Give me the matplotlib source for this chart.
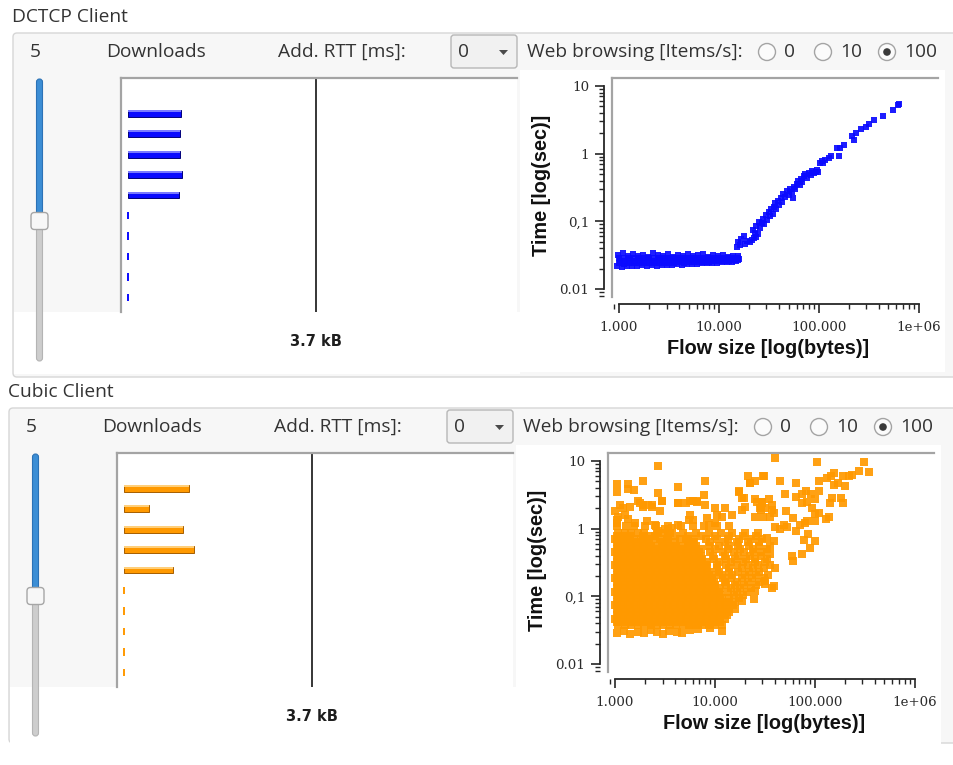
import numpy as np
import matplotlib
matplotlib.use("Agg")
import matplotlib.pyplot as plt
from matplotlib.patches import FancyBboxPatch, Rectangle, Circle, Polygon
from matplotlib.ticker import FixedLocator, FixedFormatter, LogLocator, NullFormatter
from matplotlib.transforms import blended_transform_factory

plt.rcParams["font.family"] = ["Open Sans", "DejaVu Sans"]

W, H = 954, 765
TEXT = "#333333"

# download slots (kB per flow, 0 = idle slot)
slots = list(range(10))
dctcp_downloads = [1.05, 1.03, 1.03, 1.06, 1.00, 0, 0, 0, 0, 0]
cubic_downloads = [1.27, 0.50, 1.16, 1.37, 0.97, 0, 0, 0, 0, 0]
marker_kb = 3.7

size_ticks = [1e3, 1e4, 1e5, 1e6]
size_labels = ["1.000", "10.000", "100.000", "1e+06"]
time_ticks = [0.01, 0.1, 1, 10]
time_labels = ["0.01", "0,1", "1", "10"]
rate_options = ["0", "10", "100"]
rate_selected = "100"

# DCTCP flow completion times: flat band for small flows ...
dctcp_band_size = [
    960, 1080, 1210, 1360, 1520, 1700, 1910, 2140, 2400, 2700, 3020, 3390, 3800,
    4260, 4780, 5360, 6010, 6740, 7560, 8480, 9510, 10700, 12000, 13400, 15000,
    1000, 1120, 1260, 1410, 1580, 1780, 1990, 2230, 2500, 2810, 3150, 3540, 3970,
    4450, 4990, 5600, 6280, 7040, 7900, 8860, 9940, 11150, 12500, 14000, 15700,
    1020, 1140, 1280, 1440, 1610, 1800, 2020, 2270, 2550, 2860, 3200, 3590, 4030,
    4520, 5070, 5690, 6380, 7160, 8030, 9000, 10100, 11300, 12700, 14200, 15900,
    990, 1110, 1250, 1400, 1570, 1760, 1980, 2220, 2490, 2790, 3130, 3510, 3940,
    4420, 4950, 5560, 6230, 6990, 7850, 8800, 9880, 11100, 12450, 13950, 15650,
    980, 1100, 1240, 1390, 1560, 1750, 1960, 2200, 2470, 2770, 3110, 3490, 3910,
    4390, 4920, 5520, 6190, 6950, 7800, 8750, 9820, 11000, 12400, 13900, 15600,
]
dctcp_band_time = [
    0.0220, 0.0215, 0.0222, 0.0218, 0.0221, 0.0224, 0.0219, 0.0223, 0.0221, 0.0226, 0.0224, 0.0228, 0.0231,
    0.0229, 0.0233, 0.0236, 0.0238, 0.0241, 0.0240, 0.0244, 0.0246, 0.0249, 0.0252, 0.0254, 0.0256,
    0.0240, 0.0238, 0.0242, 0.0239, 0.0241, 0.0243, 0.0240, 0.0242, 0.0241, 0.0244, 0.0243, 0.0245, 0.0247,
    0.0246, 0.0249, 0.0251, 0.0252, 0.0254, 0.0255, 0.0257, 0.0259, 0.0261, 0.0262, 0.0264, 0.0265,
    0.0262, 0.0258, 0.0265, 0.0260, 0.0263, 0.0259, 0.0266, 0.0261, 0.0264, 0.0262, 0.0267, 0.0263, 0.0265,
    0.0268, 0.0264, 0.0267, 0.0269, 0.0266, 0.0270, 0.0268, 0.0271, 0.0273, 0.0270, 0.0274, 0.0276,
    0.0288, 0.0284, 0.0290, 0.0286, 0.0289, 0.0285, 0.0291, 0.0287, 0.0288, 0.0285, 0.0290, 0.0286, 0.0288,
    0.0287, 0.0289, 0.0286, 0.0288, 0.0287, 0.0289, 0.0288, 0.0290, 0.0289, 0.0290, 0.0291, 0.0292,
    0.0318, 0.0335, 0.0305, 0.0330, 0.0312, 0.0322, 0.0300, 0.0336, 0.0315, 0.0308, 0.0328, 0.0302, 0.0320,
    0.0311, 0.0325, 0.0304, 0.0316, 0.0326, 0.0299, 0.0318, 0.0306, 0.0313, 0.0301, 0.0310, 0.0305,
]
# ... and the rise for larger flows
dctcp_rise_size = [
    15200, 15600, 16200, 16800, 17800, 18400, 19300, 20300, 21300, 22400, 23600,
    21800, 22800, 23800, 24800, 25800, 26800, 25300, 27600, 28600, 29600, 30600,
    31600, 32600, 33600, 34600, 35600, 36600, 37600, 38700, 40000, 41500, 43000,
    44200, 46000, 48000, 50000, 52000, 54000, 55500, 56500, 58500, 60500, 62500,
    64500, 66500, 68500, 71000, 73500, 76500, 79500, 83000, 86000, 89000, 93000,
    96000, 99000, 102000, 107000, 111000, 117000, 126000, 132000, 152000, 158000,
    165000, 178000, 214000, 224000, 234000, 263000, 295000, 316000, 355000,
    440000, 550000, 620000, 640000,
]
dctcp_rise_time = [
    0.042, 0.050, 0.045, 0.054, 0.061, 0.047, 0.051, 0.049, 0.053, 0.056, 0.058,
    0.074, 0.068, 0.084, 0.066, 0.079, 0.094, 0.099, 0.108, 0.090, 0.124, 0.104,
    0.138, 0.118, 0.152, 0.130, 0.165, 0.188, 0.150, 0.198, 0.172, 0.218, 0.190,
    0.255, 0.228, 0.276, 0.248, 0.298, 0.268, 0.220, 0.325, 0.300, 0.355, 0.395,
    0.340, 0.425, 0.380, 0.460, 0.495, 0.440, 0.525, 0.490, 0.555, 0.515, 0.545,
    0.575, 0.530, 0.735, 0.780, 0.720, 0.800, 0.850, 0.910, 1.20, 0.930,
    1.22, 1.35, 1.80, 1.60, 2.05, 2.30, 2.50, 2.75, 3.10,
    3.60, 4.40, 5.20, 5.50,
]

# Cubic: dense body of the cloud, one list of flow sizes per completion-time row
cubic_core_time = [0.038, 0.047, 0.059, 0.074, 0.093, 0.117, 0.147, 0.185,
                   0.23, 0.29, 0.36, 0.45, 0.56, 0.70, 0.87, 1.08]
cubic_core_size = [
    [1080, 1250, 1450, 1690, 1960, 2270, 2640, 3060, 3560, 4130, 4800, 5570, 6470, 7510, 8720, 10100, 11700],
    [1000, 1160, 1350, 1560, 1820, 2110, 2450, 2840, 3300, 3830, 4450, 5160, 6000, 6960, 8080, 9380, 10900, 12600],
    [1080, 1250, 1450, 1690, 1960, 2270, 2640, 3060, 3560, 4130, 4800, 5570, 6470, 7510, 8720, 10100, 11700, 13800],
    [1000, 1160, 1350, 1560, 1820, 2110, 2450, 2840, 3300, 3830, 4450, 5160, 6000, 6960, 8080, 9380, 10900, 12600, 15200],
    [1080, 1250, 1450, 1690, 1960, 2270, 2640, 3060, 3560, 4130, 4800, 5570, 6470, 7510, 8720, 10100, 11700, 14000, 17500],
    [1000, 1160, 1350, 1560, 1820, 2110, 2450, 2840, 3300, 3830, 4450, 5160, 6000, 6960, 8080, 9380, 10900, 13500, 16800, 21000],
    [1080, 1250, 1450, 1690, 1960, 2270, 2640, 3060, 3560, 4130, 4800, 5570, 6470, 7510, 8720, 10100, 12900, 15800, 19500, 26000],
    [1000, 1160, 1350, 1560, 1820, 2110, 2450, 2840, 3300, 3830, 4450, 5160, 6000, 6960, 8080, 9380, 12000, 14500, 18500, 23500, 31000],
    [1080, 1250, 1450, 1690, 1960, 2270, 2640, 3060, 3560, 4130, 4800, 5570, 6470, 7510, 8720, 11000, 13800, 17000, 22000, 28000],
    [1000, 1160, 1350, 1560, 1820, 2110, 2450, 2840, 3300, 3830, 4450, 5160, 6000, 6960, 8080, 10500, 13000, 16500, 21500, 27000, 36000],
    [1080, 1250, 1450, 1690, 1960, 2270, 2640, 3060, 3560, 4130, 4800, 5570, 6470, 7510, 9800, 12800, 16000, 20500, 25500, 33000],
    [1000, 1160, 1350, 1560, 1820, 2110, 2450, 2840, 3300, 3830, 4450, 5160, 6000, 6960, 9000, 12000, 15500, 19500, 24500, 30000],
    [1080, 1250, 1450, 1690, 1960, 2270, 2640, 3060, 3560, 4130, 4800, 5570, 6470, 8720, 11000, 13800, 17000, 22000, 28000, 36000],
    [1000, 1160, 1350, 1560, 1820, 2110, 2450, 2840, 3300, 4450, 5160, 6000, 8080, 10500, 13500, 17500, 23000, 30000],
    [1080, 1250, 1450, 1690, 1960, 2640, 3060, 3560, 4800, 6470, 8720, 11500, 15000, 20000, 27000],
    [1050, 1300, 1550, 2000, 2600, 3400, 4600, 6000, 7800, 10500, 14000],
]
# in-between rows of the same body
cubic_mid_time = [0.042, 0.053, 0.066, 0.083, 0.104, 0.131, 0.165, 0.207,
                  0.26, 0.325, 0.40, 0.50, 0.63, 0.78]
cubic_mid_size = [
    [1040, 1200, 1400, 1620, 1890, 2190, 2540, 2950, 3420, 3970, 4610, 5360, 6220, 7220, 8380, 9730, 11300],
    [1040, 1200, 1400, 1620, 1890, 2190, 2540, 2950, 3420, 3970, 4610, 5360, 6220, 7220, 8380, 9730, 11300, 13100],
    [1040, 1200, 1400, 1620, 1890, 2190, 2540, 2950, 3420, 3970, 4610, 5360, 6220, 7220, 8380, 9730, 11300, 13100, 15800],
    [1040, 1200, 1400, 1620, 1890, 2190, 2540, 2950, 3420, 3970, 4610, 5360, 6220, 7220, 8380, 9730, 11300, 13100, 16000],
    [1040, 1200, 1400, 1620, 1890, 2190, 2540, 2950, 3420, 3970, 4610, 5360, 6220, 7220, 8380, 9730, 11300, 15500, 19000],
    [1040, 1200, 1400, 1620, 1890, 2190, 2540, 2950, 3420, 3970, 4610, 5360, 6220, 7220, 8380, 9730, 11300, 14500, 18000, 23000],
    [1040, 1200, 1400, 1620, 1890, 2190, 2540, 2950, 3420, 3970, 4610, 5360, 6220, 7220, 8380, 9730, 12500, 16500, 21500, 28000],
    [1040, 1200, 1400, 1620, 1890, 2190, 2540, 2950, 3420, 3970, 4610, 5360, 6220, 7220, 8380, 9730, 11800, 15000, 20000, 26000, 34000],
    [1040, 1200, 1400, 1620, 1890, 2190, 2540, 2950, 3420, 3970, 4610, 5360, 6220, 7220, 8380, 10500, 14000, 18500, 24000, 31000],
    [1040, 1200, 1400, 1620, 1890, 2190, 2540, 2950, 3420, 3970, 4610, 5360, 6220, 7220, 8380, 11000, 14500, 19000, 25000, 32000],
    [1040, 1200, 1400, 1620, 1890, 2190, 2540, 2950, 3420, 3970, 4610, 5360, 6220, 7220, 9500, 12500, 17000, 22500, 29000],
    [1040, 1200, 1400, 1620, 1890, 2190, 2540, 2950, 3420, 3970, 4610, 5360, 6220, 7220, 10000, 13500, 18000, 24000, 33000],
    [1040, 1200, 1400, 1620, 1890, 2190, 2950, 3420, 3970, 5360, 6220, 9000, 12500, 16500, 21500, 28000],
    [1040, 1200, 1400, 1890, 2190, 2540, 3420, 3970, 5360, 7220, 10000, 14000, 19000, 26000],
]
# fastest flows along the lower edge
cubic_floor_size = [1040, 1230, 1400, 1700, 1950, 2300, 2650, 3000, 3500, 4200, 4700, 5600, 6800, 8900, 11800]
cubic_floor_time = [0.029, 0.031, 0.028, 0.030, 0.029, 0.032, 0.030, 0.028, 0.031, 0.030, 0.029, 0.032, 0.033, 0.034, 0.031]
# slow / large flows scattered above and to the right
cubic_sparse_size = [
    1040, 1040, 1340, 1360, 1560, 1900, 2680, 2700, 4250, 7950, 7700, 6100, 5600, 6600,
    2990, 4260, 1710, 1920, 2160, 2330, 2830, 1120, 1210, 1000, 1080,
    10000, 12600, 11700, 14800, 18600, 17400, 18600, 21400, 22400, 25100, 31000, 26300,
    29500, 28200, 31600, 34700, 40000, 22600, 30700, 45000, 65000, 105000, 310000,
    350000, 280000, 234000, 219000, 191000, 155000, 145000, 132000, 170000, 155000,
    200000, 110000, 110000, 91000, 81000, 74000, 100000, 148000, 141000, 182000,
    191000, 65000, 51000, 74000, 83000, 93000, 100000, 110000, 100000, 138000,
    129000, 60000, 80000, 83000, 37000, 30000, 35500, 39000, 49000, 52500, 40000,
    45000, 65000, 71000, 85000, 79000, 100000, 89000, 74000, 60000, 33000, 39000,
    35500, 40000, 39000, 31500, 37000, 32000, 25000, 18600, 24500, 59000, 52000,
    37000, 29500, 29000, 25000, 20000, 19500, 25000, 30700, 17500, 10400, 7900,
    6600, 5200, 4300, 5600, 5500, 6100, 8300, 8700, 10000, 2950, 2350, 1900, 1800,
    1400, 1260, 1350, 1050, 1050, 1600, 2100, 2500, 3200, 3700, 4300, 2700,
]
cubic_sparse_time = [
    4.5, 3.5, 4.5, 3.8, 3.7, 5.0, 3.4, 8.5, 4.1, 5.0, 3.1, 2.6, 2.6, 2.6,
    2.6, 2.4, 2.6, 2.25, 2.25, 2.1, 1.8, 2.25, 2.0, 1.8, 1.5,
    2.0, 2.0, 1.5, 1.6, 1.9, 3.6, 2.8, 5.9, 4.7, 5.0, 5.9, 2.5,
    2.5, 2.0, 2.0, 2.7, 11.0, 4.8, 5.9, 5.1, 4.8, 9.8, 9.8,
    6.8, 7.1, 6.3, 5.9, 6.0, 6.6, 5.9, 5.7, 4.7, 4.4,
    4.3, 5.1, 3.6, 3.2, 3.6, 3.2, 2.7, 2.8, 2.4, 2.8,
    2.4, 2.95, 3.2, 2.4, 2.45, 2.0, 1.65, 1.7, 1.3, 1.5,
    1.4, 1.45, 1.2, 1.3, 2.25, 2.5, 1.5, 1.7, 1.15, 1.07, 1.07,
    0.98, 0.91, 1.15, 0.83, 0.69, 0.66, 0.52, 0.42, 0.33, 0.72, 0.65,
    0.42, 0.26, 0.14, 0.166, 0.135, 0.15, 0.12, 0.085, 0.091, 0.39, 1.8,
    1.9, 2.4, 1.9, 2.7, 2.1, 2.8, 1.5, 1.5, 3.5, 1.6, 2.2,
    2.5, 2.4, 2.4, 1.6, 1.35, 1.35, 1.45, 1.15, 1.2, 2.6, 2.2, 2.1, 2.4,
    2.1, 1.6, 1.4, 1.35, 1.2, 1.2, 1.3, 1.15, 0.98, 1.02, 1.15, 0.91,
]

dctcp_size = dctcp_band_size + dctcp_rise_size
dctcp_time = dctcp_band_time + dctcp_rise_time
cubic_rows = list(zip(cubic_core_time, cubic_core_size)) + list(zip(cubic_mid_time, cubic_mid_size))
cubic_size = [s for _, row in cubic_rows for s in row] + cubic_floor_size + cubic_sparse_size
cubic_time = [t for t, row in cubic_rows for _ in row] + cubic_floor_time + cubic_sparse_time

fig = plt.figure(figsize=(W / 100, H / 100), dpi=100)
fig.patch.set_facecolor("white")


def px_axes(left, top, right, bottom, label):
    return fig.add_axes([left / W, 1 - bottom / H, (right - left) / W, (bottom - top) / H], label=label)


bg = fig.add_axes([0, 0, 1, 1], label="bg")
bg.set_xlim(0, W)
bg.set_ylim(H, 0)
bg.axis("off")


def rbox(x, y, w, h, r, **kw):
    bg.add_patch(FancyBboxPatch((x, y), w, h, boxstyle=f"round,pad=0,rounding_size={r}", **kw))


def draw_slider(cx, top, bottom, handle):
    rbox(cx - 3, handle, 6, bottom - handle, 3, fc="#cdcdcd", ec="#b4b4b4", lw=0.8)
    rbox(cx - 3, top, 6, handle - top, 3, fc="#3c8ed5", ec="#2c72b6", lw=0.8)
    rbox(cx - 8.5, handle - 8.5, 17, 17, 3.5, fc="#f7f7f7", ec="#a6a6a6", lw=1.0)


def draw_panel(dx, dy, box_h, title, downloads, sizes, times, body, light, dark, msize):
    hdr = 52 + dy
    bg.text(12 + dx, 17 + dy, title, fontsize=13.8, color=TEXT, va="center")
    rbox(13 + dx, 33 + dy, 990, box_h, 4, fc="#f7f7f7", ec="#d6d6d6", lw=1.0)
    bg.add_patch(Rectangle((14 + dx, 312 + dy), 506, 62, fc="white", lw=0))
    bg.add_patch(Rectangle((520 + dx, 70 + dy), 425, 302, fc="white", lw=0))

    bg.text(30 + dx, hdr, "5", fontsize=13.8, color=TEXT, va="center")
    bg.text(106 + dx, hdr, "Downloads", fontsize=13.8, color=TEXT, va="center")
    bg.text(278 + dx, hdr, "Add. RTT [ms]:", fontsize=13.8, color=TEXT, va="center")
    rbox(451 + dx, 35 + dy, 66, 33, 3, fc="#f1f1f1", ec="#b7b7b7", lw=1.0)
    bg.text(458 + dx, hdr, "0", fontsize=13.8, color=TEXT, va="center")
    bg.add_patch(Polygon([(499 + dx, 50 + dy), (508 + dx, 50 + dy), (503.5 + dx, 55 + dy)],
                         closed=True, fc="#4a4a4a", lw=0))
    bg.text(527 + dx, hdr, "Web browsing [Items/s]:", fontsize=13.8, color=TEXT, va="center")
    for cx, lab in zip([767, 823, 887], rate_options):
        bg.add_patch(Circle((cx + dx, hdr), 8.5, fc="#fbfbfb", ec="#a4a4a4", lw=1.0))
        if lab == rate_selected:
            bg.add_patch(Circle((cx + dx, hdr), 3.8, fc="#3a3a3a", lw=0))
        bg.text(cx + dx + 17, hdr, lab, fontsize=13.8, color=TEXT, va="center")

    draw_slider(39.5 + dx, 79 + dy, 361 + dy, 221 + dy)

    # per-slot download progress
    dl = px_axes(121 + dx, 78 + dy, 517 + dx, 312 + dy, title + "dl")
    dl.set_facecolor("white")
    dl.set_xlim(-7 / 50.8, 389 / 50.8)
    dl.set_ylim(9.71, -1.71)
    dl.set_xticks([])
    dl.set_yticks([])
    for side in ("right", "bottom"):
        dl.spines[side].set_visible(False)
    for side in ("left", "top"):
        dl.spines[side].set_color("#a4a4a4")
        dl.spines[side].set_linewidth(1.6)
    busy = [(s, v) for s, v in zip(slots, downloads) if v > 0]
    idle = [s for s, v in zip(slots, downloads) if v == 0]
    bs, bv = zip(*busy)
    dl.barh(bs, bv, height=0.34, color=body, edgecolor=dark, linewidth=0.7)
    dl.barh(np.array(bs) - 0.115, bv, height=0.09, color=light, linewidth=0)
    dl.vlines([0] * len(idle), np.array(idle) - 0.19, np.array(idle) + 0.19, color=body, lw=1.4)
    dl.axvline(marker_kb, color="black", lw=1.1)
    dl.text(marker_kb, -0.128, f"{marker_kb} kB", transform=blended_transform_factory(dl.transData, dl.transAxes),
            ha="center", va="center", fontsize=10.5, fontweight="bold", family="DejaVu Sans", color="#1e1e1e")

    # flow completion time scatter
    box = px_axes(612 + dx, 78 + dy, 938 + dx, 297 + dy, title + "box")
    box.set_facecolor("white")
    box.set_xticks([])
    box.set_yticks([])
    for side in ("right", "bottom"):
        box.spines[side].set_visible(False)
    for side in ("left", "top"):
        box.spines[side].set_color("#a4a4a4")
        box.spines[side].set_linewidth(1.6)

    sc = px_axes(612 + dx, 78 + dy, 938 + dx, 297 + dy, title + "sc")
    sc.patch.set_visible(False)
    sc.set_xscale("log")
    sc.set_yscale("log")
    sc.set_xlim(10 ** 2.93, 10 ** 6.195)
    sc.set_ylim(10 ** -2.118, 10 ** 1.118)
    sc.scatter(sizes, times, s=msize, marker="s", color=body, alpha=0.92, linewidths=0)
    for side in ("right", "top"):
        sc.spines[side].set_visible(False)
    sc.spines["left"].set_position(("outward", 6))
    sc.spines["left"].set_bounds(0.01, 10)
    sc.spines["bottom"].set_position(("outward", 5))
    sc.spines["bottom"].set_bounds(1e3, 1e6)
    for side in ("left", "bottom"):
        sc.spines[side].set_color("#262626")
        sc.spines[side].set_linewidth(1.3)
    sc.xaxis.set_major_locator(FixedLocator(size_ticks))
    sc.xaxis.set_major_formatter(FixedFormatter(size_labels))
    sc.yaxis.set_major_locator(FixedLocator(time_ticks))
    sc.yaxis.set_major_formatter(FixedFormatter(time_labels))
    for axis in (sc.xaxis, sc.yaxis):
        axis.set_minor_locator(LogLocator(base=10, subs=range(2, 10)))
        axis.set_minor_formatter(NullFormatter())
    sc.tick_params(which="major", length=6.5, width=1.2, color="#262626", labelsize=9.6,
                   labelcolor="#2b2b2b", labelfontfamily="DejaVu Serif")
    sc.tick_params(which="minor", length=3.5, width=1.0, color="#262626")
    sc.tick_params(axis="x", which="major", pad=6)
    sc.tick_params(axis="y", which="major", pad=4)
    sc.set_xlabel("Flow size [log(bytes)]", fontsize=14.3, fontweight="bold", family="Liberation Sans",
                  color="#111111", va="center")
    sc.xaxis.set_label_coords(0.48, -0.233)
    sc.set_ylabel("Time [log(sec)]", fontsize=14.3, fontweight="bold", family="Liberation Sans",
                  color="#111111", va="center")
    sc.yaxis.set_label_coords(-0.215, 0.51)


draw_panel(0, 0, 344, "DCTCP Client", dctcp_downloads, dctcp_size, dctcp_time,
           "#0a0aff", "#7a7aff", "#00007a", 24)
draw_panel(-4, 375, 335, "Cubic Client", cubic_downloads, cubic_size, cubic_time,
           "#ff9900", "#ffcf7a", "#a65e00", 27)

fig.savefig("out.png", dpi=100, facecolor="white")
